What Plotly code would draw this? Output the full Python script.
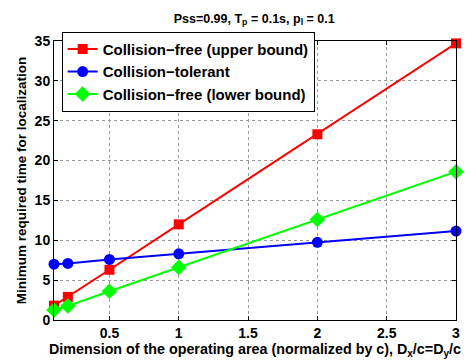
import plotly.graph_objects as go

x_vals = [0.1, 0.2, 0.5, 1, 2, 3]
upper = [1.8, 2.9, 6.3, 12.0, 23.3, 34.7]
tolerant = [7.0, 7.1, 7.6, 8.3, 9.75, 11.15]
lower = [1.25, 1.75, 3.6, 6.6, 12.6, 18.6]
names = ["Collision−free (upper bound)", "Collision−tolerant", "Collision−free (lower bound)"]
x_ticks = [0.5, 1, 1.5, 2, 2.5, 3]
y_ticks = [0, 5, 10, 15, 20, 25, 30, 35]

FONT = "Liberation Sans, Arial, sans-serif"

fig = go.Figure()
fig.add_trace(go.Scatter(x=x_vals, y=upper, name=names[0], mode="lines+markers",
                         line=dict(color="#ff0000", width=2),
                         marker=dict(symbol="square", size=10, color="#ff0000")))
fig.add_trace(go.Scatter(x=x_vals, y=tolerant, name=names[1], mode="lines+markers",
                         line=dict(color="#0000ff", width=2),
                         marker=dict(symbol="circle", size=11, color="#0000ff")))
fig.add_trace(go.Scatter(x=x_vals, y=lower, name=names[2], mode="lines+markers",
                         line=dict(color="#00ff00", width=2),
                         marker=dict(symbol="diamond", size=12, color="#00ff00")))

axis_common = dict(showline=True, linecolor="black", linewidth=1, mirror="ticks",
                   ticks="inside", ticklen=4, tickcolor="black",
                   showgrid=True, gridcolor="#999999", griddash="dot", gridwidth=1,
                   zeroline=False, tickfont=dict(family=FONT, size=14, color="black"))

fig.update_layout(
    width=476, height=364,
    margin=dict(l=54, r=20, t=41, b=44),
    paper_bgcolor="white", plot_bgcolor="white",
    font=dict(family=FONT, color="black", size=14),
    title=dict(text="<b>Pss=0.99, T<sub>p</sub> = 0.1s, p<sub>l</sub> = 0.1</b>",
               x=0.534, xanchor="center", y=0.95, yanchor="middle",
               font=dict(family=FONT, size=12.5, color="black")),
    xaxis=dict(range=[0.1, 3], tickvals=x_ticks, ticktext=["<b>%g</b>" % v for v in x_ticks],
               title=dict(text="<b>Dimension of the operating area (normalized by c), D<sub>x</sub>/c=D<sub>y</sub>/c</b>",
                          font=dict(family=FONT, size=14.3), standoff=2),
               **axis_common),
    yaxis=dict(range=[0, 35], tickvals=y_ticks, ticktext=["<b>%d</b>" % v for v in y_ticks],
               title=dict(text="<b>Minimum required time for localization</b>",
                          font=dict(family=FONT, size=13.5), standoff=4),
               **axis_common),
    legend=dict(x=0.019, y=1.033, xanchor="left", yanchor="top",
                bgcolor="white", bordercolor="black", borderwidth=1,
                font=dict(family=FONT, size=15, color="black"),
                tracegroupgap=0, itemwidth=30),
    showlegend=True,
)
fig.update_traces(cliponaxis=False)
for t in fig.data:
    t.name = "<b>" + t.name + "</b>"

fig.write_html("out.html")
